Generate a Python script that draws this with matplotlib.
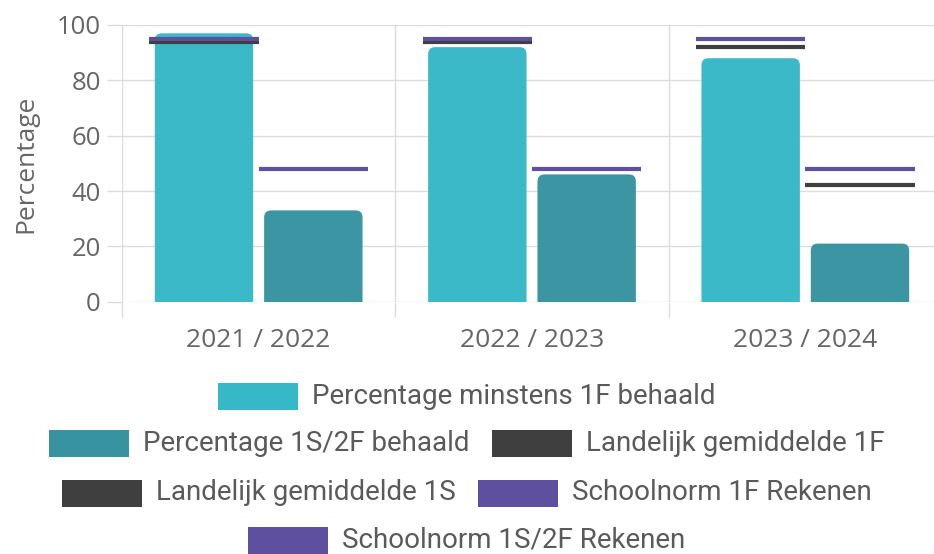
import numpy as np
import matplotlib
matplotlib.use('Agg')
import matplotlib.pyplot as plt
from matplotlib.patches import FancyBboxPatch, Rectangle

# Data
jaren = ['2021 / 2022', '2022 / 2023', '2023 / 2024']
pct_1f = [97, 92, 88]
pct_1s2f = [33, 46, 21]
landelijk_1f = [94, 94, 92]
landelijk_1s = [np.nan, np.nan, 42]
norm_1f = [95, 95, 95]
norm_1s2f = [48, 48, 48]

legend_labels = ['Percentage minstens 1F behaald', 'Percentage 1S/2F behaald',
                 'Landelijk gemiddelde 1F', 'Landelijk gemiddelde 1S',
                 'Schoolnorm 1F Rekenen', 'Schoolnorm 1S/2F Rekenen']

c_1f = '#37b8c8'
c_1s = '#3793a0'
c_land = '#3f3f3f'
c_norm = '#5e4f9f'
colors = [c_1f, c_1s, c_land, c_land, c_norm, c_norm]
grid_c = '#dcdcdc'
text_c = '#666666'

plt.rcParams['font.family'] = ['Open Sans', 'DejaVu Sans']

W, H = 934, 554
fig = plt.figure(figsize=(W / 100, H / 100), dpi=100)
ax = fig.add_axes([122 / W, 1 - 301.7 / H, 820 / W, 276.7 / H])

x = np.arange(len(jaren))
bw = 0.36
lw = 0.4
off = 0.2
px2pt = 0.72

# Bars with rounded top corners
px_x = 820 / 3.0
px_y = 276.7 / 100.0
aspect = px_x / px_y
for vals, col, d in [(pct_1f, c_1f, -off), (pct_1s2f, c_1s, off)]:
    for xi, v in zip(x, vals):
        r = 7 / px_x
        p = FancyBboxPatch((xi + d - bw / 2, -10), bw, v + 10,
                           boxstyle='round,pad=0,rounding_size=%f' % r,
                           mutation_aspect=aspect, facecolor=col,
                           edgecolor='none', alpha=0.98, zorder=2)
        ax.add_patch(p)

# Reference lines
ax.hlines(landelijk_1f, x - off - lw / 2, x - off + lw / 2, colors=c_land, linewidth=3.0, zorder=3)
ax.hlines(landelijk_1s, x + off - lw / 2, x + off + lw / 2, colors=c_land, linewidth=3.0, zorder=3)
ax.hlines(norm_1f, x - off - lw / 2, x - off + lw / 2, colors=c_norm, linewidth=3.0, zorder=4)
ax.hlines(norm_1s2f, x + off - lw / 2, x + off + lw / 2, colors=c_norm, linewidth=3.0, zorder=4)

ax.set_xlim(-0.5, 2.5)
ax.set_ylim(0, 100)
ax.set_yticks(range(0, 101, 20))
ax.set_xticks(x)
ax.set_xticklabels(jaren)
ax.set_xticks([-0.5, 0.5, 1.5, 2.5], minor=True)
ax.tick_params(axis='x', which='major', length=0, pad=26 * px2pt, labelsize=19, labelcolor=text_c)
ax.tick_params(axis='x', which='minor', length=15 * px2pt, color=grid_c, width=1)
ax.tick_params(axis='y', length=15 * px2pt, color=grid_c, width=1, pad=6 * px2pt,
               labelsize=18.5, labelcolor=text_c)
ax.grid(axis='y', color=grid_c, linewidth=1, zorder=0)
ax.grid(axis='x', which='minor', color=grid_c, linewidth=1, zorder=0)
ax.set_axisbelow(True)
for s in ax.spines.values():
    s.set_visible(False)
ax.set_ylabel('Percentage', fontsize=19, color=text_c, labelpad=13)

# Legend laid out in centred rows
rows = [[0], [1, 2], [3, 4], [5]]
row_y = [396.5, 443.5, 493, 540]
pw, ph = 80, 27
gap_t = 14
gap_i = 22
renderer = fig.canvas.get_renderer()
leg_fs = 20
texts = []
for lab in legend_labels:
    t = fig.text(0, 0, lab, fontsize=leg_fs, color='#5a5a5a', family=['Roboto', 'DejaVu Sans'],
                 va='center', ha='left')
    texts.append(t)
tw = [t.get_window_extent(renderer).width for t in texts]
for row, yc in zip(rows, row_y):
    total = sum(pw + gap_t + tw[i] for i in row) + gap_i * (len(row) - 1)
    xs = W / 2 - total / 2
    for i in row:
        fig.patches.append(Rectangle((xs / W, 1 - (yc + ph / 2) / H), pw / W, ph / H,
                                     transform=fig.transFigure, facecolor=colors[i],
                                     edgecolor='none'))
        texts[i].set_position(((xs + pw + gap_t) / W, 1 - yc / H))
        xs += pw + gap_t + tw[i] + gap_i

fig.savefig('out.png', dpi=100)
